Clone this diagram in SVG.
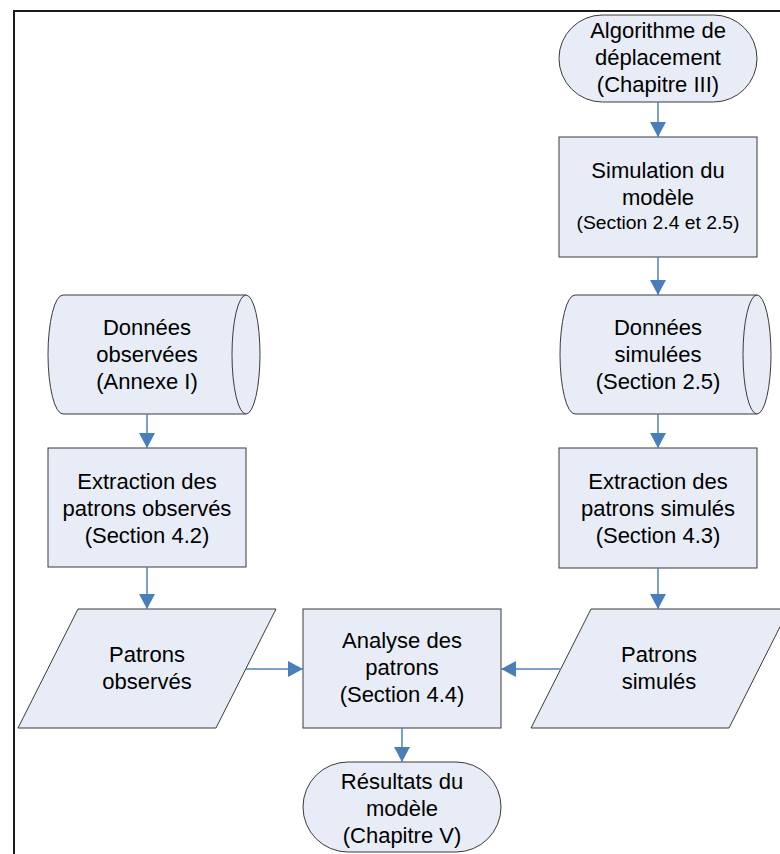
<svg xmlns="http://www.w3.org/2000/svg" width="780" height="854" viewBox="0 0 780 854">
<defs>
<style>
.s{fill:#e7ecf6;stroke:#3a3a3a;stroke-width:1}
.t{font-family:"Liberation Sans",Arial,sans-serif;font-size:22px;fill:#000;text-anchor:middle}
.sm{font-size:17.5px}
.c{stroke:#4f81bd;stroke-width:1.5;fill:none}
.frame{stroke:#1a1a1a;stroke-width:2;fill:none}
</style>
<marker id="ah" markerUnits="userSpaceOnUse" markerWidth="16" markerHeight="16" refX="15" refY="8" orient="auto">
<path d="M0,0 L15,8 L0,16 z" fill="#4a7ebb"/>
</marker>
</defs>
<rect width="780" height="854" fill="#fff"/>
<path class="frame" d="M14,854 L14,11 L780,11"/>

<g id="algo">
<rect class="s" x="559" y="15" width="198" height="87" rx="43.5" ry="43.5"/>
<text class="t" x="658" y="38">Algorithme de</text>
<text class="t" x="658" y="65">déplacement</text>
<text class="t" x="658" y="92">(Chapitre III)</text>
</g>

<g id="simulation">
<rect class="s" x="559" y="137" width="198" height="120"/>
<text class="t" x="658" y="178">Simulation du</text>
<text class="t" x="658" y="205">modèle</text>
<text class="t sm" x="658" y="229" textLength="163" lengthAdjust="spacingAndGlyphs">(Section 2.4 et 2.5)</text>
</g>

<g id="donnees-simulees">
<path class="s" d="M575,295 L757,295 A14,59.5 0 0 1 757,414 L575,414 A15,59.5 0 0 1 575,295 z"/>
<path class="s" d="M757,295 A14,59.5 0 0 0 757,414" fill="none"/>
<text class="t" x="658" y="335">Données</text>
<text class="t" x="658" y="362">simulées</text>
<text class="t" x="658" y="389">(Section 2.5)</text>
</g>

<g id="donnees-observees">
<path class="s" d="M63,295 L246,295 A14,59.5 0 0 1 246,414 L63,414 A15,59.5 0 0 1 63,295 z"/>
<path class="s" d="M246,295 A14,59.5 0 0 0 246,414" fill="none"/>
<text class="t" x="147" y="335">Données</text>
<text class="t" x="147" y="362">observées</text>
<text class="t" x="147" y="389">(Annexe I)</text>
</g>

<g id="extraction-observes">
<rect class="s" x="48" y="448" width="198" height="119"/>
<text class="t" x="147" y="489">Extraction des</text>
<text class="t" x="147" y="516">patrons observés</text>
<text class="t" x="147" y="543">(Section 4.2)</text>
</g>

<g id="extraction-simules">
<rect class="s" x="559" y="448" width="198" height="120"/>
<text class="t" x="658" y="489">Extraction des</text>
<text class="t" x="658" y="516">patrons simulés</text>
<text class="t" x="658" y="543">(Section 4.3)</text>
</g>

<g id="patrons-observes">
<path class="s" d="M78,609 L276,609 L216,728 L18,728 z"/>
<text class="t" x="147" y="662">Patrons</text>
<text class="t" x="147" y="689">observés</text>
</g>

<g id="analyse">
<rect class="s" x="303" y="609" width="198" height="119"/>
<text class="t" x="402" y="648">Analyse des</text>
<text class="t" x="402" y="675">patrons</text>
<text class="t" x="402" y="702">(Section 4.4)</text>
</g>

<g id="patrons-simules">
<path class="s" d="M591,609 L789,609 L729,728 L531,728 z"/>
<text class="t" x="659" y="662">Patrons</text>
<text class="t" x="659" y="689">simulés</text>
</g>

<g id="resultats">
<rect class="s" x="303" y="762" width="198" height="90" rx="45" ry="45"/>
<text class="t" x="402" y="789">Résultats du</text>
<text class="t" x="402" y="816">modèle</text>
<text class="t" x="402" y="843">(Chapitre V)</text>
</g>

<g id="connectors">
<line class="c" x1="658" y1="102" x2="658" y2="137" marker-end="url(#ah)"/>
<line class="c" x1="658" y1="257" x2="658" y2="295" marker-end="url(#ah)"/>
<line class="c" x1="658" y1="414" x2="658" y2="448" marker-end="url(#ah)"/>
<line class="c" x1="147" y1="414" x2="147" y2="448" marker-end="url(#ah)"/>
<line class="c" x1="147" y1="567" x2="147" y2="609" marker-end="url(#ah)"/>
<line class="c" x1="658" y1="568" x2="658" y2="609" marker-end="url(#ah)"/>
<line class="c" x1="246" y1="669" x2="303" y2="669" marker-end="url(#ah)"/>
<line class="c" x1="561" y1="669" x2="501" y2="669" marker-end="url(#ah)"/>
<line class="c" x1="402" y1="728" x2="402" y2="762" marker-end="url(#ah)"/>
</g>
</svg>
